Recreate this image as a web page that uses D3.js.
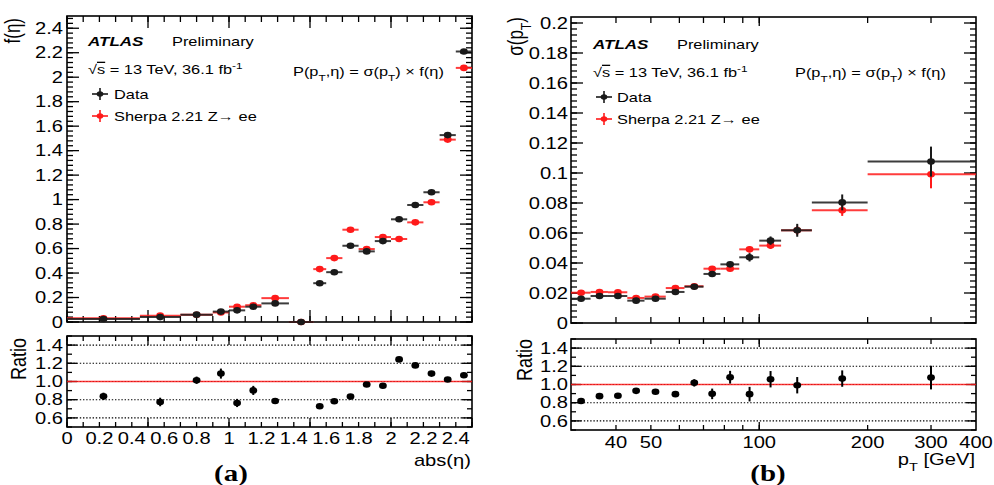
<!DOCTYPE html>
<html><head><meta charset="utf-8">
<script src="https://cdn.jsdelivr.net/npm/d3@7"></script>
<style>body{margin:0;background:#fff} svg{display:block} text{font-family:"Liberation Sans",Arial,Helvetica,sans-serif;fill:#000}</style>
</head><body><svg id="c" width="994" height="485"></svg>
<script>
// ---------- data: panel (a), |eta| ----------
const etaEdges = [0,0.45,0.7,0.9,1.0,1.1,1.2,1.37,1.52,1.6,1.7,1.8,1.9,2.0,2.1,2.2,2.3,2.4,2.5];
const etaData  = [0.025,0.040,0.060,0.085,0.095,0.125,0.152,0.0,0.317,0.407,0.623,0.577,0.661,0.839,0.956,1.060,1.527,2.210];
const etaMC    = [0.030,0.052,0.059,0.078,0.125,0.137,0.195,0.0,0.432,0.522,0.754,0.596,0.694,0.678,0.814,0.978,1.490,2.076];
const etaRatio = [0.837,0.775,1.014,1.087,0.764,0.902,0.786,null,0.728,0.783,0.834,0.967,0.953,1.243,1.177,1.087,1.022,1.068];
const etaRatioErr = [0.04,0.047,0.04,0.055,0.045,0.05,0.02,null,0.02,0.015,0.015,0.015,0.015,0.015,0.015,0.015,0.015,0.015];
// ---------- data: panel (b), pT ----------
const ptEdges = [30,34,38,43,48,55,62,70,78,88,100,115,140,200,400];
const ptData  = [0.0162,0.0180,0.0180,0.0149,0.0162,0.0207,0.0242,0.0327,0.0391,0.0438,0.0549,0.0618,0.0804,0.1076];
const ptMC    = [0.0202,0.0207,0.0205,0.0167,0.0176,0.0233,0.0245,0.0362,0.0362,0.0491,0.0516,0.0618,0.0751,0.0991];
const ptDataErr = [0.0005,0.0005,0.0005,0.0005,0.0005,0.0007,0.0008,0.0012,0.0015,0.0028,0.0028,0.0043,0.0053,0.0100];
const ptMCErr   = [0.0004,0.0004,0.0004,0.0004,0.0004,0.0005,0.0006,0.0010,0.0013,0.0020,0.0022,0.0030,0.0037,0.0093];
const ptRatio    = [0.818,0.872,0.876,0.930,0.920,0.894,1.018,0.897,1.080,0.894,1.058,0.992,1.065,1.076];
const ptRatioErr = [0.02,0.02,0.02,0.025,0.025,0.025,0.04,0.058,0.07,0.08,0.09,0.09,0.09,0.13];
// ---------- tick labels ----------
const etaTickLabels = [0,0.2,0.4,0.6,0.8,1,1.2,1.4,1.6,1.8,2,2.2,2.4];
const fTickLabels = [0,0.2,0.4,0.6,0.8,1,1.2,1.4,1.6,1.8,2,2.2,2.4];
const sigTickLabels = [0,0.02,0.04,0.06,0.08,0.1,0.12,0.14,0.16,0.18,0.2];
const ratioTickLabels = [0.6,0.8,1.0,1.2,1.4];
const ptTickLabels = [40,50,100,200,300,400];
const ptMinorTicks = [40,50,60,70,80,90,100,200,300];

const SX = 1.26;
const svg = d3.select("#c");
const BLACK = "#1a1a1a", RED = "#ff1a1a";

function txt(g, x, y, parts, o = {}) {
  const size = o.size || 16;
  const t = g.append("text")
    .attr("transform", `translate(${x},${y}) scale(${SX},1)` + (o.rot ? " rotate(-90)" : ""))
    .attr("text-anchor", o.anchor || "start")
    .style("font-size", size + "px");
  if (o.weight) t.style("font-weight", o.weight);
  if (o.style) t.style("font-style", o.style);
  if (o.family) t.style("font-family", o.family);
  if (o.dy) t.attr("dy", o.dy);
  if (typeof parts === "string") parts = [{t: parts}];
  let shift = 0;
  parts.forEach(p => {
    const sp = t.append("tspan").text(p.t);
    let target = 0;
    if (p.sub) { sp.style("font-size", (size * 0.72) + "px"); target = size * 0.35; }
    if (p.sup) { sp.style("font-size", (size * 0.72) + "px"); target = -size * 0.42; }
    if (p.over) sp.style("text-decoration", "overline");
    if (target !== shift) { sp.attr("dy", target - shift); shift = target; }
  });
  return t;
}

function yTicks(g, y, vals, x0, x1, len) {
  vals.forEach(v => {
    const yy = y(v);
    g.append("line").attr("x1", x0).attr("x2", x0 + len).attr("y1", yy).attr("y2", yy);
    g.append("line").attr("x1", x1).attr("x2", x1 - len).attr("y1", yy).attr("y2", yy);
  });
}
function xTicks(g, x, vals, y0, y1, len) {
  vals.forEach(v => {
    const xx = x(v);
    g.append("line").attr("x1", xx).attr("x2", xx).attr("y1", y1).attr("y2", y1 - len);
    g.append("line").attr("x1", xx).attr("x2", xx).attr("y1", y0).attr("y2", y0 + len);
  });
}
const rng = (a, b, s) => d3.range(Math.round((b - a) / s) + 1).map(i => +(a + i * s).toFixed(6));

function frame(g, x0, x1, y0, y1) {
  g.append("rect").attr("x", x0).attr("y", y0).attr("width", x1 - x0).attr("height", y1 - y0)
    .attr("fill", "none").attr("stroke", "#000").attr("stroke-width", 1.6);
}

function histPoints(g, x, y, edges, vals, errs, color) {
  const gg = g.append("g");
  vals.forEach((v, i) => {
    if (v == null) return;
    const cx = x((edges[i] + edges[i + 1]) / 2);
    const cy = y(v);
    gg.append("line").attr("x1", x(edges[i])).attr("x2", x(edges[i + 1])).attr("y1", cy).attr("y2", cy)
      .attr("stroke", color).attr("stroke-width", 2).attr("stroke-opacity", 0.85);
    if (errs) {
      const e = errs[i];
      gg.append("line").attr("x1", cx).attr("x2", cx).attr("y1", y(v - e)).attr("y2", y(v + e))
        .attr("stroke", color).attr("stroke-width", 2);
    }
    gg.append("ellipse").attr("cx", cx).attr("cy", cy).attr("rx", 3.9).attr("ry", 3.3).attr("fill", color);
  });
}

function ratioPoints(g, x, y, centers, vals, errs) {
  vals.forEach((v, i) => {
    if (v == null) return;
    const cx = x(centers[i]);
    g.append("line").attr("x1", cx).attr("x2", cx).attr("y1", y(v - errs[i])).attr("y2", y(v + errs[i]))
      .attr("stroke", "#000").attr("stroke-width", 2);
    g.append("ellipse").attr("cx", cx).attr("cy", y(v)).attr("rx", 3.9).attr("ry", 3.3).attr("fill", "#000");
  });
}

function ratioGrid(g, x0, x1, y) {
  ratioTickLabels.forEach(v => {
    g.append("line").attr("x1", x0).attr("x2", x1).attr("y1", y(v)).attr("y2", y(v))
      .attr("stroke", "#000").attr("stroke-width", 1.1).attr("stroke-dasharray", "1.4,1.8");
  });
  g.append("line").attr("x1", x0).attr("x2", x1).attr("y1", y(1)).attr("y2", y(1))
    .attr("stroke", RED).attr("stroke-width", 1.6).attr("stroke-opacity", 0.85);
}

function legendAndText(g, ox, oy, mx, tx) {
  txt(g, ox, oy + 46, "ATLAS", {size: 13.5, weight: "bold", style: "italic"});
  txt(g, ox + 84, oy + 46, "Preliminary", {size: 13});
  txt(g, ox, oy + 74, [{t: "√"}, {t: "s", over: true}, {t: " = 13 TeV, 36.1 fb"}, {t: "-1", sup: true}], {size: 13});
  [[94, BLACK, "Data"], [116, RED, "Sherpa 2.21 Z→ ee"]].forEach(([yy, c, label]) => {
    g.append("line").attr("x1", mx - 8).attr("x2", mx + 8).attr("y1", oy + yy).attr("y2", oy + yy).attr("stroke", c).attr("stroke-width", 1.6);
    g.append("line").attr("x1", mx).attr("x2", mx).attr("y1", oy + yy - 6).attr("y2", oy + yy + 6).attr("stroke", c).attr("stroke-width", 1.6);
    g.append("ellipse").attr("cx", mx).attr("cy", oy + yy).attr("rx", 3.3).attr("ry", 2.8).attr("fill", c);
    txt(g, tx, oy + yy + 5, label, {size: 13});
  });
}
function formula(g, x, y) {
  txt(g, x, y, [{t: "P(p"}, {t: "T", sub: true}, {t: ",η) = σ(p"}, {t: "T", sub: true}, {t: ") × f(η)"}], {size: 13});
}

// ================= Panel (a) =================
{
  const g = svg.append("g");
  const X0 = 67, X1 = 472, U0 = 16, U1 = 322, R0 = 336, R1 = 427;
  const x = d3.scaleLinear([0, 2.5], [X0, X1]);
  const y = d3.scaleLinear([0, 2.5], [U1, U0]);
  const yr = d3.scaleLinear([0.5, 1.5], [R1, R0]);
  const tk = g.append("g").attr("stroke", "#000").attr("stroke-width", 1.3);
  yTicks(tk, y, rng(0, 2.48, 0.04), X0, X1, 6);
  yTicks(tk, y, fTickLabels, X0, X1, 12);
  xTicks(tk, x, rng(0, 2.5, 0.1), U0, U1, 6);
  xTicks(tk, x, rng(0, 2.5, 0.5), U0, U1, 12);
  yTicks(tk, yr, rng(0.5, 1.5, 0.1), X0, X1, 5);
  yTicks(tk, yr, ratioTickLabels, X0, X1, 10);
  xTicks(tk, x, rng(0, 2.5, 0.1), R0, R1, 5);
  xTicks(tk, x, rng(0, 2.5, 0.5), R0, R1, 9);
  frame(g, X0, X1, U0, U1);
  frame(g, X0, X1, R0, R1);
  histPoints(g, x, y, etaEdges, etaMC, null, RED);
  histPoints(g, x, y, etaEdges, etaData, null, BLACK);
  ratioGrid(g, X0, X1, yr);
  const centers = etaEdges.slice(0, -1).map((e, i) => (e + etaEdges[i + 1]) / 2);
  ratioPoints(g, x, yr, centers, etaRatio, etaRatioErr);
  fTickLabels.forEach(v => txt(g, 63, y(v), String(+v.toFixed(2)), {size: 16, anchor: "end", dy: "0.36em"}));
  ratioTickLabels.forEach(v => txt(g, 63, yr(v), d3.format(".1f")(v), {size: 16, anchor: "end", dy: "0.36em"}));
  etaTickLabels.forEach(v => txt(g, x(v), 444, String(+v.toFixed(2)), {size: 16, anchor: "middle"}));
  txt(g, 20, 18, "f(η)", {size: 17, anchor: "end", rot: true});
  txt(g, 26, 338, "Ratio", {size: 18, anchor: "end", rot: true});
  txt(g, 471, 466, "abs(η)", {size: 16, anchor: "end"});
  txt(g, 231, 481, "(a)", {size: 23, anchor: "middle", weight: "bold", family: "'Liberation Serif','DejaVu Serif',serif"});
  legendAndText(g, 88, 0, 100, 114);
  formula(g, 293, 76);
}

// ================= Panel (b) =================
{
  const g = svg.append("g");
  const X0 = 571, X1 = 976, U0 = 17, U1 = 323, R0 = 339, R1 = 430;
  const x = d3.scaleLog([30, 400], [X0, X1]);
  const y = d3.scaleLinear([0, 0.204], [U1, U0]);
  const yr = d3.scaleLinear([0.5, 1.5], [R1, R0]);
  const tk = g.append("g").attr("stroke", "#000").attr("stroke-width", 1.3);
  yTicks(tk, y, rng(0, 0.2, 0.004), X0, X1, 6);
  yTicks(tk, y, sigTickLabels, X0, X1, 12);
  xTicks(tk, x, ptMinorTicks, U0, U1, 6);
  xTicks(tk, x, [100], U0, U1, 9);
  yTicks(tk, yr, rng(0.5, 1.5, 0.1), X0, X1, 5);
  yTicks(tk, yr, ratioTickLabels, X0, X1, 10);
  xTicks(tk, x, ptMinorTicks, R0, R1, 5);
  xTicks(tk, x, [100], R0, R1, 8);
  frame(g, X0, X1, U0, U1);
  frame(g, X0, X1, R0, R1);
  histPoints(g, x, y, ptEdges, ptMC, ptMCErr, RED);
  histPoints(g, x, y, ptEdges, ptData, ptDataErr, BLACK);
  ratioGrid(g, X0, X1, yr);
  const centers = ptEdges.slice(0, -1).map((e, i) => (e + ptEdges[i + 1]) / 2);
  ratioPoints(g, x, yr, centers, ptRatio, ptRatioErr);
  sigTickLabels.forEach(v => txt(g, 568, y(v), String(+v.toFixed(3)), {size: 16, anchor: "end", dy: "0.36em"}));
  ratioTickLabels.forEach(v => txt(g, 568, yr(v), d3.format(".1f")(v), {size: 16, anchor: "end", dy: "0.36em"}));
  ptTickLabels.forEach(v => txt(g, x(v), 448, String(v), {size: 16, anchor: "middle"}));
  txt(g, 523, 17, [{t: "σ(p"}, {t: "T", sub: true}, {t: ")"}], {size: 17, anchor: "end", rot: true});
  txt(g, 532, 339, "Ratio", {size: 18, anchor: "end", rot: true});
  txt(g, 975, 465, [{t: "p"}, {t: "T", sub: true}, {t: " [GeV]"}], {size: 16, anchor: "end"});
  txt(g, 768, 481, "(b)", {size: 23, anchor: "middle", weight: "bold", family: "'Liberation Serif','DejaVu Serif',serif"});
  legendAndText(g, 593, 3, 604, 617);
  formula(g, 795, 77);
}
</script></body></html>
